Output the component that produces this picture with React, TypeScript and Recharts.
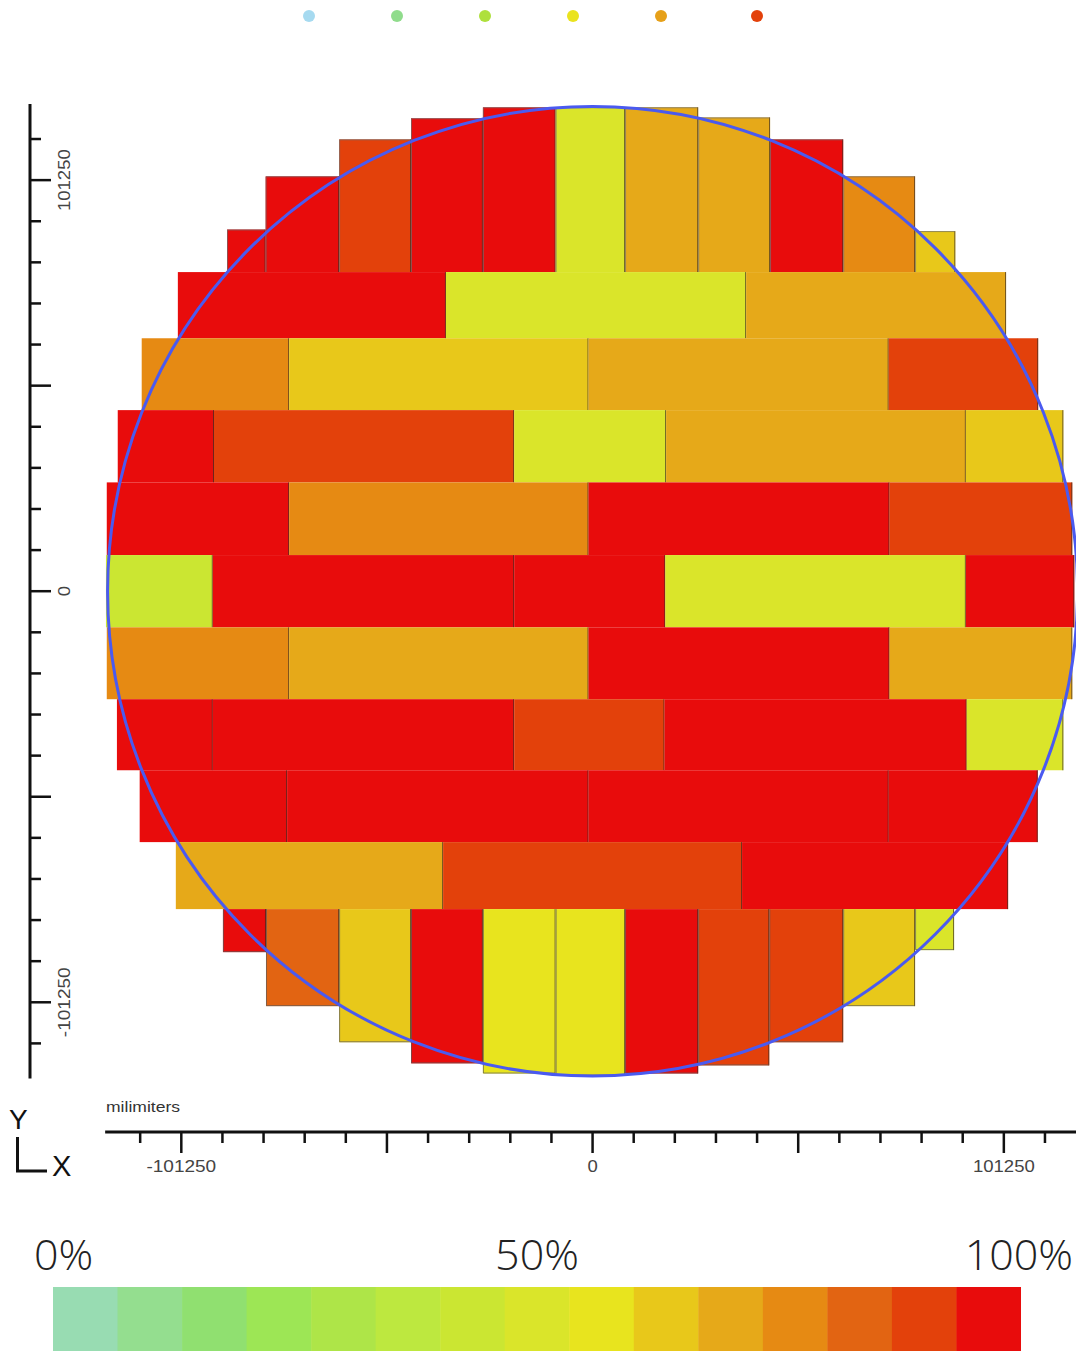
import React from "react";
import {
  ComposedChart,
  XAxis,
  YAxis,
  ReferenceArea,
  ReferenceLine,
  BarChart,
  Bar,
  Cell,
} from "recharts";

// plot extents in millimeters
const X_DOMAIN: [number, number] = [-138500, 120000];
const Y_DOMAIN: [number, number] = [-133200, 120000];
const AXIS_SPAN = 120000;
const WAFER_RADIUS = 119400;

const TICKS = [
  -111375, -101250, -91125, -81000, -70875, -60750, -50625, -40500, -30375, -20250, -10125, 0,
  10125, 20250, 30375, 40500, 50625, 60750, 70875, 81000, 91125, 101250, 111375,
];
const MAJOR_TICKS = [-101250, -50625, 0, 50625, 101250];
const LABELED_TICKS = [-101250, 0, 101250];

// 15 bins, 0% -> 100%
const PALETTE = [
  "#98dcb2", "#94de8f", "#90e070", "#9de655", "#aee548", "#bde83f", "#cbe632", "#dae52a",
  "#e8e41e", "#e8c81a", "#e6a919", "#e68a13", "#e26412", "#e3410b", "#e80c0c",
];
const SCALE_LABELS = ["0%", "50%", "100%"];
const LEGEND_DOTS = ["#a6daf0", "#90dc8c", "#aee03c", "#eae31e", "#e6a019", "#e3410b"];

// top row: [x1, x2, top, pct], bottom edge shared
const TOP_ROW_BOTTOM = 78600;
const TOP_ROW: number[][] = [
  [-90000, -80500, 89100, 97],
  [-80500, -62400, 102200, 97],
  [-62400, -44700, 111300, 90],
  [-44700, -27000, 116500, 97],
  [-27000, -9100, 119200, 97],
  [-9100, 8000, 119200, 50],
  [8000, 26000, 119200, 70],
  [26000, 43700, 116700, 70],
  [43700, 61700, 111300, 97],
  [61700, 79400, 102200, 77],
  [79400, 89300, 88700, 63],
];

// middle rows: [bottom, top] and cells [x1, x2, pct]
const MIDDLE_ROW_BOUNDS: number[][] = [
  [62300, 78600],
  [44600, 62300],
  [26800, 44600],
  [8900, 26800],
  [-8900, 8900],
  [-26600, -8900],
  [-44100, -26600],
  [-61800, -44100],
  [-78300, -61800],
];
const MIDDLE_ROWS: number[][][] = [
  [[-102100, -36100, 97], [-36100, 37800, 50], [37800, 101800, 70]],
  [[-111000, -74700, 77], [-74700, -1000, 63], [-1000, 72900, 70], [72900, 109700, 90]],
  [[-116900, -93200, 97], [-93200, -19300, 90], [-19300, 18100, 50], [18100, 91900, 70], [91900, 115900, 63]],
  [[-119600, -74700, 97], [-74700, -1000, 77], [-1000, 73100, 97], [73100, 118100, 90]],
  [[-119800, -93500, 43], [-93500, -19300, 97], [-19300, 17900, 97], [17900, 91900, 50], [91900, 118600, 97]],
  [[-119600, -74700, 77], [-74700, -1000, 70], [-1000, 73100, 97], [73100, 118100, 70]],
  [[-117100, -93500, 97], [-93500, -19300, 97], [-19300, 17700, 90], [17700, 92100, 97], [92100, 115900, 50]],
  [[-111500, -75200, 97], [-75200, -1000, 97], [-1000, 72900, 97], [72900, 109600, 97]],
  [[-102600, -36800, 70], [-36800, 36800, 90], [36800, 102300, 97]],
];

// bottom row: [x1, x2, bottom, pct], top edge shared
const BOTTOM_ROW_TOP = -78300;
const BOTTOM_ROW: number[][] = [
  [-91000, -80400, -88900, 97],
  [-80400, -62400, -102200, 84],
  [-62400, -44700, -111100, 63],
  [-44700, -27000, -116300, 97],
  [-27000, -9100, -118800, 57],
  [-9100, 8000, -119300, 57],
  [8000, 26000, -118800, 97],
  [26000, 43500, -116800, 90],
  [43500, 61700, -111100, 90],
  [61700, 79400, -102200, 63],
  [79400, 89000, -88400, 50],
];

type Die = { x1: number; x2: number; y1: number; y2: number; pct: number; edge: string };

const dies: Die[] = [
  ...TOP_ROW.map(([x1, x2, top, pct]) => ({ x1, x2, y1: TOP_ROW_BOTTOM, y2: top, pct, edge: "top" })),
  ...MIDDLE_ROWS.flatMap((row, r) =>
    row.map(([x1, x2, pct]) => ({
      x1,
      x2,
      y1: MIDDLE_ROW_BOUNDS[r][0],
      y2: MIDDLE_ROW_BOUNDS[r][1],
      pct,
      edge: "none",
    }))
  ),
  ...BOTTOM_ROW.map(([x1, x2, bottom, pct]) => ({ x1, x2, y1: bottom, y2: BOTTOM_ROW_TOP, pct, edge: "bottom" })),
];

const colorFor = (pct: number) => PALETTE[Math.min(PALETTE.length - 1, Math.floor((pct * PALETTE.length) / 100))];

const labelFont = "'Liberation Sans', Arial, sans-serif";

// the source labels are a bit stretched along their length
const labelLength = (v: number) => String(Math.abs(v)).length * 10.3 + (v < 0 ? 8 : 0);

function cellShape(color: string, edge: string) {
  return (p: any) => {
    const { x, y, width, height } = p;
    const r = x + width - 0.5;
    return (
      <g>
        <rect x={x} y={y} width={width} height={height} fill={color} />
        <line x1={r} y1={y} x2={r} y2={y + height} stroke="rgba(60,45,35,0.7)" strokeWidth={1} />
        {edge === "top" && (
          <path d={`M${x + 0.5},${y + height}V${y + 0.5}H${r}`} fill="none" stroke="rgba(110,110,110,0.7)" />
        )}
        {edge === "bottom" && (
          <path d={`M${x + 0.5},${y}V${y + height - 0.5}H${r}`} fill="none" stroke="rgba(90,90,90,0.7)" />
        )}
      </g>
    );
  };
}

const waferOutline = (p: any) => (
  <ellipse
    cx={p.x + p.width / 2}
    cy={p.y + p.height / 2}
    rx={p.width / 2}
    ry={p.height / 2}
    fill="none"
    stroke="#4a5af0"
    strokeWidth={3}
  />
);

function XTick(props: any) {
  const { x, y, payload } = props;
  const v = payload.value;
  const len = MAJOR_TICKS.includes(v) ? 21 : 11;
  return (
    <g>
      <line x1={x} y1={y} x2={x} y2={y + len} stroke="#111" strokeWidth={2.5} />
      {LABELED_TICKS.includes(v) && (
        <text
          x={x - labelLength(v) / 2}
          y={y + 40}
          fontSize={17}
          fill="#444"
          fontFamily={labelFont}
          textLength={labelLength(v)}
          lengthAdjust="spacingAndGlyphs"
        >
          {v}
        </text>
      )}
    </g>
  );
}

function YTick(props: any) {
  const { x, y, payload } = props;
  const v = payload.value;
  const len = MAJOR_TICKS.includes(v) ? 21 : 11;
  const cx = x + 34;
  return (
    <g>
      <line x1={x} y1={y} x2={x + len} y2={y} stroke="#111" strokeWidth={2.5} />
      {LABELED_TICKS.includes(v) && (
        <text
          x={cx - labelLength(v) / 2}
          y={y}
          dy="0.35em"
          fontSize={17}
          fill="#444"
          fontFamily={labelFont}
          textLength={labelLength(v)}
          lengthAdjust="spacingAndGlyphs"
          transform={`rotate(-90 ${cx} ${y})`}
        >
          {v}
        </text>
      )}
    </g>
  );
}

const scaleData = PALETTE.map((c, i) => ({ bin: i, v: 1, c }));

const scaleLabelStyle = (i: number): React.CSSProperties =>
  i === 0
    ? { left: 34 }
    : i === SCALE_LABELS.length - 1
    ? { right: 3 }
    : { left: 537, transform: "translateX(-50%)" };

export default function App() {
  return (
    <div
      style={{
        position: "absolute",
        left: 0,
        top: 0,
        width: 1076,
        height: 1351,
        overflow: "hidden",
        background: "#fff",
      }}
    >
      <div style={{ position: "absolute", left: 303, top: 10, display: "flex" }}>
        {LEGEND_DOTS.map((c, i) => (
          <div key={c} style={{ width: 88, marginLeft: i === LEGEND_DOTS.length - 1 ? 8 : 0 }}>
            <div style={{ width: 12, height: 12, borderRadius: 6, background: c }} />
          </div>
        ))}
      </div>

      <div style={{ position: "absolute", left: 0, top: 0 }}>
        <ComposedChart width={1080} height={1182} margin={{ top: 104, right: 0, left: 29, bottom: 0 }}>
          <XAxis
            type="number"
            dataKey="x"
            domain={X_DOMAIN}
            ticks={TICKS}
            interval={0}
            allowDataOverflow
            axisLine={false}
            tickLine={false}
            tickSize={0}
            tickMargin={0}
            height={50}
            tick={XTick}
          />
          <YAxis
            type="number"
            dataKey="y"
            domain={Y_DOMAIN}
            ticks={TICKS}
            interval={0}
            allowDataOverflow
            axisLine={false}
            tickLine={false}
            tickSize={0}
            tickMargin={0}
            width={1}
            tick={YTick}
          />
          {dies.map((d, i) => (
            <ReferenceArea
              key={i}
              x1={d.x1}
              x2={d.x2}
              y1={d.y1}
              y2={d.y2}
              ifOverflow="visible"
              shape={cellShape(colorFor(d.pct), d.edge)}
            />
          ))}
          <ReferenceArea
            x1={-WAFER_RADIUS}
            x2={WAFER_RADIUS}
            y1={-WAFER_RADIUS}
            y2={WAFER_RADIUS}
            ifOverflow="visible"
            shape={waferOutline}
          />
          <ReferenceLine
            segment={[
              { x: X_DOMAIN[0], y: AXIS_SPAN },
              { x: X_DOMAIN[0], y: -AXIS_SPAN },
            ]}
            stroke="#111"
            strokeWidth={3}
            ifOverflow="visible"
          />
          <ReferenceLine
            segment={[
              { x: -AXIS_SPAN, y: Y_DOMAIN[0] },
              { x: X_DOMAIN[1], y: Y_DOMAIN[0] },
            ]}
            stroke="#111"
            strokeWidth={3}
            ifOverflow="visible"
          />
        </ComposedChart>
      </div>

      <svg style={{ position: "absolute", left: 0, top: 1090 }} width={200} height={95}>
        <text x={9} y={39} fontSize={28} fill="#111" fontFamily={labelFont}>
          Y
        </text>
        <path d="M17.5,47V81H47" fill="none" stroke="#111" strokeWidth={3} />
        <text x={52} y={86} fontSize={29} fill="#111" fontFamily={labelFont}>
          X
        </text>
        <text x={106} y={22} fontSize={14} fill="#333" fontFamily={labelFont} textLength={74} lengthAdjust="spacingAndGlyphs">
          milimiters
        </text>
      </svg>

      {SCALE_LABELS.map((t, i) => (
        <span
          key={t}
          style={{
            position: "absolute",
            top: 1225,
            whiteSpace: "nowrap",
            fontFamily: "'Open Sans', sans-serif",
            fontWeight: 300,
            fontSize: 43,
            lineHeight: "58px",
            color: "#222",
            ...scaleLabelStyle(i),
          }}
        >
          {t}
        </span>
      ))}

      <div style={{ position: "absolute", left: 53, top: 1287 }}>
        <BarChart width={968} height={64} data={scaleData} margin={{ top: 0, right: 0, left: 0, bottom: 0 }} barCategoryGap={0}>
          <XAxis dataKey="bin" hide />
          <YAxis hide domain={[0, 1]} />
          <Bar dataKey="v" isAnimationActive={false}>
            {scaleData.map((d) => (
              <Cell key={d.bin} fill={d.c} />
            ))}
          </Bar>
        </BarChart>
      </div>
    </div>
  );
}
